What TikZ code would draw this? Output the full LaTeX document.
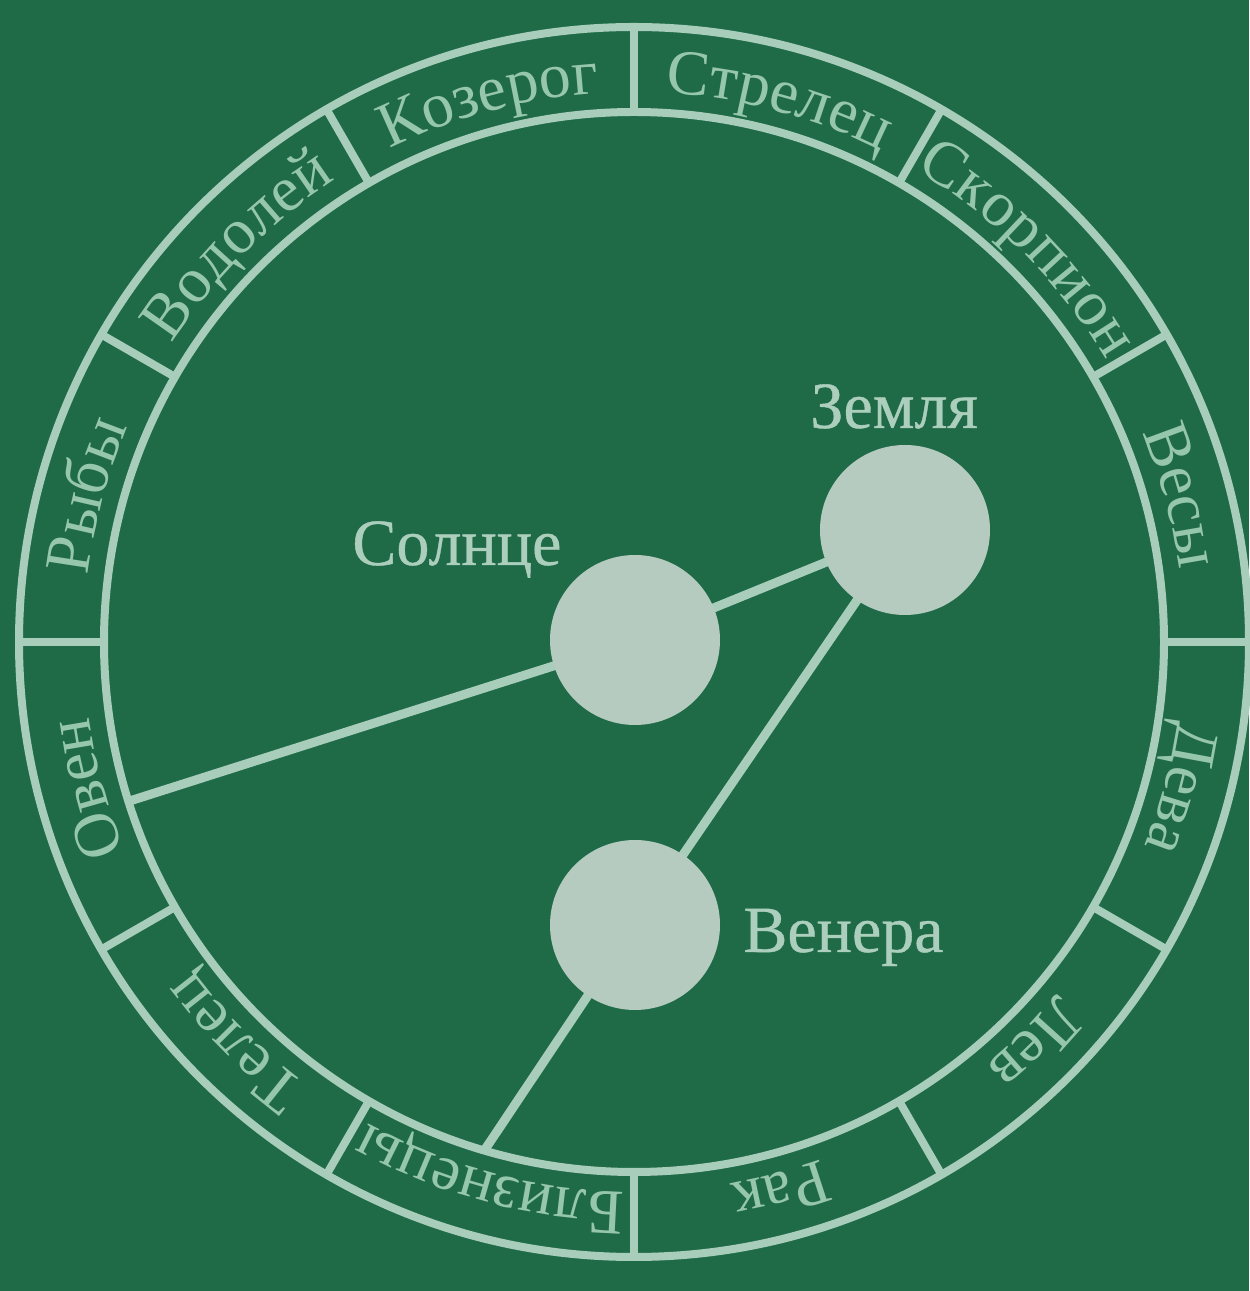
\documentclass[tikz,border=0pt]{standalone}
\usepackage{fontspec}
\setmainfont{Liberation Serif}
\newfontfamily\planetfamily[FakeBold=0.6]{Liberation Serif}
\usetikzlibrary{decorations.text}
\definecolor{bggreen}{RGB}{31,107,71}
\definecolor{ringc}{RGB}{168,205,186}
\definecolor{diskc}{RGB}{182,203,191}
\definecolor{zodc}{RGB}{150,198,172}
\definecolor{labc}{RGB}{172,206,188}
\newcommand\zodfont{\fontsize{32}{32}\selectfont}
\newcommand\planetfont{\planetfamily\fontsize{33}{33}\selectfont}
\pgfdeclarelayer{under}
\pgfsetlayers{under,main}
\tikzset{
  ringline/.style={line width=4pt, draw=ringc},
  connector/.style={line width=4.5pt, draw=ringc},
  planet/.style={circle, fill=diskc, minimum size=85pt, inner sep=0pt, outer sep=0pt},
  planetlabel/.style={text=labc, font=\planetfont, inner sep=0pt, anchor=base west},
  zodiac/.style={decorate, decoration={text along path, text={|\zodfont\color{zodc}|#1}, text align=center}},
}
\begin{document}
\begin{tikzpicture}[x=0.5pt,y=0.5pt]
\begin{pgfonlayer}{under}
\fill[bggreen] (0,0) rectangle (1249,1291);
\end{pgfonlayer}
\useasboundingbox (0,0) rectangle (1249,1291);
\coordinate (C) at (634,649);
% ring
\draw[ringline] (C) circle[radius=615];
\draw[ringline] (C) circle[radius=530];
\foreach \a in {0,30,...,330} \draw[ringline] ([shift={(\a:530)}]C) -- ([shift={(\a:615)}]C);
% zodiac names
\path[zodiac=Стрелец] ([shift={(95:550)}]C) arc[start angle=95, end angle=55, radius=550];
\path[zodiac=Скорпион] ([shift={(65:550)}]C) arc[start angle=65, end angle=25, radius=550];
\path[zodiac=Весы] ([shift={(35:550)}]C) arc[start angle=35, end angle=-5, radius=550];
\path[zodiac=Дева] ([shift={(5:550)}]C) arc[start angle=5, end angle=-35, radius=550];
\path[zodiac=Лев] ([shift={(-25:550)}]C) arc[start angle=-25, end angle=-65, radius=550];
\path[zodiac=Рак] ([shift={(-55:550)}]C) arc[start angle=-55, end angle=-95, radius=550];
\path[zodiac=Близнецы] ([shift={(-85:550)}]C) arc[start angle=-85, end angle=-125, radius=550];
\path[zodiac=Телец] ([shift={(-115:550)}]C) arc[start angle=-115, end angle=-155, radius=550];
\path[zodiac=Овен] ([shift={(-145:550)}]C) arc[start angle=-145, end angle=-185, radius=550];
\path[zodiac=Рыбы] ([shift={(185:550)}]C) arc[start angle=185, end angle=145, radius=550];
\path[zodiac=Водолей] ([shift={(155:550)}]C) arc[start angle=155, end angle=115, radius=550];
\path[zodiac=Козерог] ([shift={(125:550)}]C) arc[start angle=125, end angle=85, radius=550];
% planets
\node[planet] (sun) at (635,651) {};
\node[planet] (earth) at (905,761) {};
\node[planet] (venus) at (635,366) {};
\node[planetlabel] (sunlabel) at (352,726) {Солнце};
\node[planetlabel] (earthlabel) at (810,863) {Земля};
\node[planetlabel] (venuslabel) at (743,339) {Венера};
\coordinate (ringA) at ([shift={(197.5:530)}]C);
\coordinate (ringB) at ([shift={(253.6:530)}]C);
\begin{pgfonlayer}{under}
\draw[connector] (ringA) -- (sun.center);
\draw[connector] (sun.center) -- (earth.center);
\draw[connector] (earth.center) -- (venus.center);
\draw[connector] (venus.center) -- (ringB);
\end{pgfonlayer}
\end{tikzpicture}
\end{document}
